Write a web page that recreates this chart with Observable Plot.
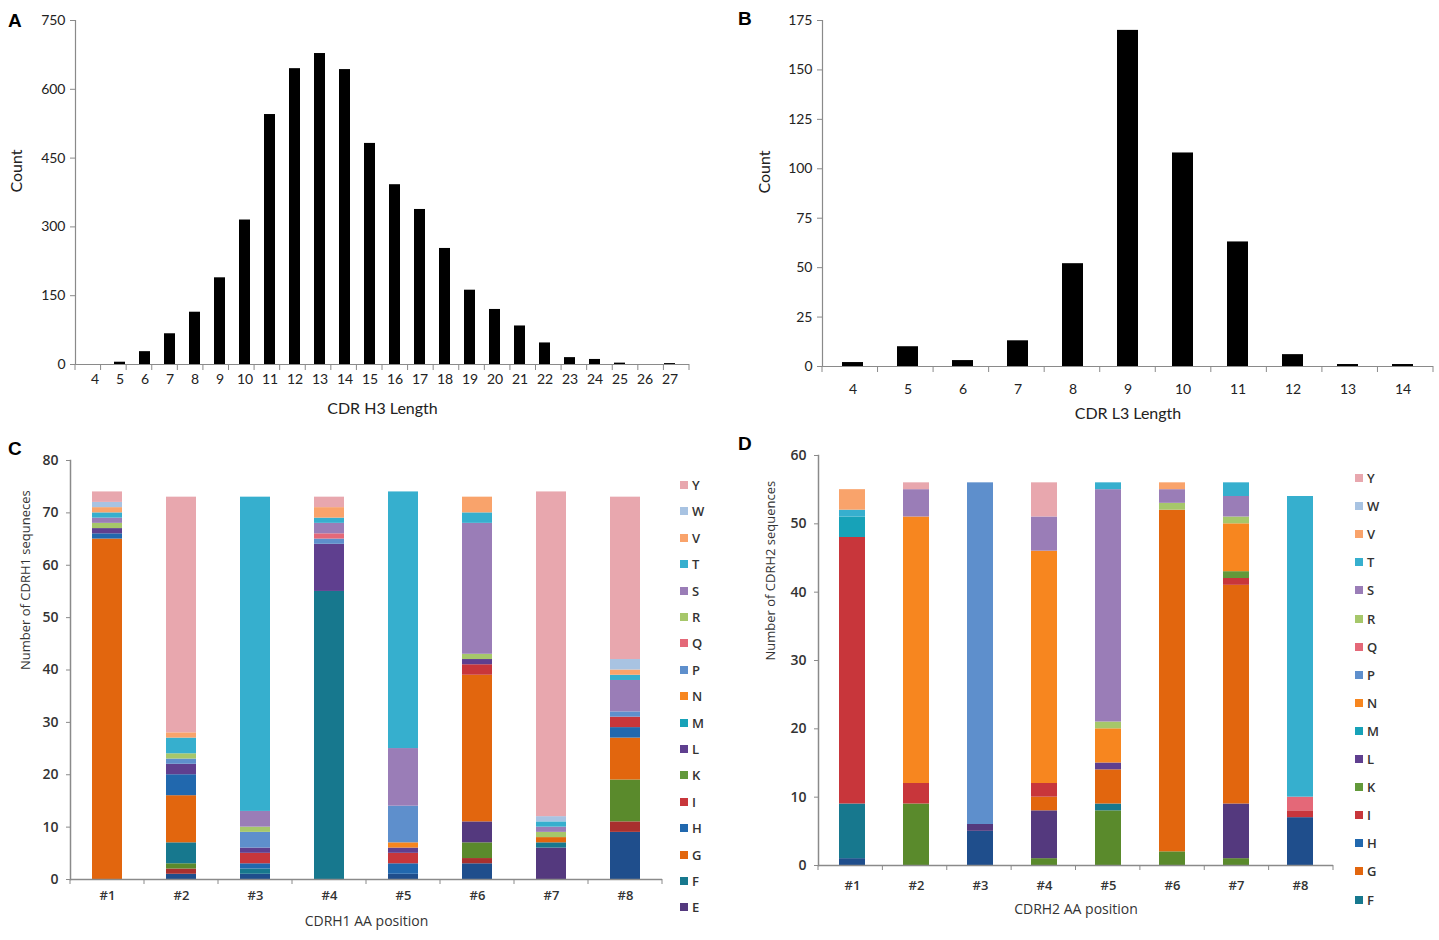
<!DOCTYPE html>
<html><head><meta charset="utf-8">
<script src="https://cdn.jsdelivr.net/npm/d3@7"></script>
<script src="https://cdn.jsdelivr.net/npm/@observablehq/plot@0.6"></script>
<style>
body{margin:0;background:#fff;}
#root{position:relative;width:1439px;height:940px;overflow:hidden;background:#fff;}
.panel{position:absolute;}
.letter{position:absolute;font:bold 19px "Liberation Sans",Arial,sans-serif;color:#000;line-height:1;}
.legend{position:absolute;font:600 13px "Open Sans",sans-serif;color:#333;}
.legend .item{position:absolute;left:0;display:flex;align-items:center;height:16px;white-space:nowrap;}
.legend .sw{display:inline-block;width:8px;height:8px;margin-right:4px;}
</style></head><body><div id="root"></div>
<script>
// ---- Panel A: CDR H3 length distribution
const h3Lengths = [4,5,6,7,8,9,10,11,12,13,14,15,16,17,18,19,20,21,22,23,24,25,26,27];
const h3Counts  = [0,5,28,67,114,189,315,545,645,678,643,482,392,338,253,162,120,84,47,15,11,3,0,2];
const h3YTicks  = [0,150,300,450,600,750];

// ---- Panel B: CDR L3 length distribution
const l3Lengths = [4,5,6,7,8,9,10,11,12,13,14];
const l3Counts  = [2,10,3,13,52,170,108,63,6,1,1];
const l3YTicks  = [0,25,50,75,100,125,150,175];

// ---- Amino acids (stack order bottom -> top) and colours
const aminoAcids = ["A","C","D","E","F","G","H","I","K","L","M","N","P","Q","R","S","T","V","W","Y"];
const aaColors   = ["#1F4E8C","#A8302E","#5A8A2C","#54397E","#17788E","#E2660E","#2168AE","#C8363B","#62993A","#5F3F8F",
                    "#17A2B8","#F7861F","#5E8FCC","#E46878","#A6C76A","#9A7DB7","#36AFCE","#F9A36B","#A8C3E2","#E8A7AE"];

// ---- Panel C: CDRH1 counts per position (aligned with aminoAcids)
const positions = ["#1","#2","#3","#4","#5","#6","#7","#8"];
const h1Pos1 = [0,0,0,0,0,65,1,0,0,1,0,0,0,0,1,1,1,1,1,2];
const h1Pos2 = [1,1,1,0,4,9,4,0,0,2,0,0,1,0,1,0,3,1,0,45];
const h1Pos3 = [1,0,0,0,1,0,1,2,0,1,0,0,3,0,1,3,60,0,0,0];
const h1Pos4 = [0,0,0,0,55,0,0,0,0,9,0,0,1,1,0,2,1,2,0,2];
const h1Pos5 = [1,0,0,0,0,0,2,2,0,1,0,1,7,0,0,11,49,0,0,0];
const h1Pos6 = [3,1,3,4,0,28,0,2,0,1,0,0,0,0,1,25,2,3,0,0];
const h1Pos7 = [0,0,0,6,1,1,0,0,0,0,0,0,0,0,1,1,1,0,1,62];
const h1Pos8 = [9,2,8,0,0,8,2,2,0,0,0,0,1,0,0,6,1,1,2,31];
const h1YTicks = [0,10,20,30,40,50,60,70,80];
const h1Legend = ["Y","W","V","T","S","R","Q","P","N","M","L","K","I","H","G","F","E"];

// ---- Panel D: CDRH2 counts per position (aligned with aminoAcids)
const h2Pos1 = [1,0,0,0,8,0,0,39,0,0,3,0,0,0,0,0,1,3,0,0];
const h2Pos2 = [0,0,9,0,0,0,0,3,0,0,0,39,0,0,0,4,0,0,0,1];
const h2Pos3 = [5,0,0,1,0,0,0,0,0,0,0,0,50,0,0,0,0,0,0,0];
const h2Pos4 = [0,0,1,7,0,2,0,2,0,0,0,34,0,0,0,5,0,0,0,5];
const h2Pos5 = [0,0,8,0,1,5,0,0,0,1,0,5,0,0,1,34,1,0,0,0];
const h2Pos6 = [0,0,2,0,0,50,0,0,0,0,0,0,0,0,1,2,0,1,0,0];
const h2Pos7 = [0,0,1,8,0,32,0,1,1,0,0,7,0,0,1,3,2,0,0,0];
const h2Pos8 = [7,0,0,0,0,0,0,1,0,0,0,0,0,2,0,0,44,0,0,0];
const h2YTicks = [0,10,20,30,40,50,60];
const h2Legend = ["Y","W","V","T","S","R","Q","P","N","M","L","K","I","H","G","F"];

const root = document.getElementById("root");
const AXIS = "#8a8a8a";

function place(el, left, top) {
  const d = document.createElement("div");
  d.className = "panel"; d.style.left = left + "px"; d.style.top = top + "px";
  d.appendChild(el); root.appendChild(d);
}
// category-boundary tick marks below the x axis, positioned from the plot's own scales
function boundaryTicks(chart, len) {
  const sx = chart.scale("x"), sy = chart.scale("y");
  const [r0, r1] = sx.range, n = sx.domain.length, y0 = sy.apply(0);
  const g = d3.select(chart).append("g").attr("stroke", AXIS).attr("stroke-width", 1);
  for (let i = 0; i <= n; i++) {
    const x = r0 + i * (r1 - r0) / n;
    g.append("line").attr("x1", x).attr("x2", x).attr("y1", y0).attr("y2", y0 + len);
  }
}
function letter(t, x, y) {
  const d = document.createElement("div"); d.className = "letter";
  d.style.left = x + "px"; d.style.top = y + "px"; d.textContent = t; root.appendChild(d);
}

function histPanel(o) {
  const rows = o.cats.map((c, i) => ({c, v: o.vals[i]}));
  const chart = Plot.plot({
    width: o.width, height: o.height,
    marginLeft: o.ml, marginRight: o.mr, marginTop: o.mt, marginBottom: o.mb,
    style: {fontFamily: "Lato, sans-serif", fontSize: "14px", color: "#222", background: "transparent", overflow: "visible"},
    x: {type: "band", domain: o.cats, paddingInner: o.pad, paddingOuter: o.pad / 2},
    y: {domain: [0, o.ymax]},
    marks: [
      Plot.barY(rows, {x: "c", y: "v", fill: "black"}),
      Plot.ruleY([0], {stroke: AXIS, strokeWidth: 1.2}),
      Plot.frame({anchor: "left", stroke: AXIS, strokeWidth: 1.2}),
      Plot.axisY({ticks: o.yticks, tickSize: 5, tickPadding: 5, label: null, stroke: AXIS}),
      Plot.axisX({tickSize: 0, tickPadding: o.xpad, label: null}),
      Plot.text([o.ytitle], {text: d => d, frameAnchor: "left", rotate: -90, dx: o.ytdx, fontSize: 16}),
      Plot.text([o.xtitle], {text: d => d, frameAnchor: "bottom", dy: o.xtdy, fontSize: 16})
    ]
  });
  boundaryTicks(chart, 6);
  return chart;
}

function stackPanel(o) {
  const rows = [];
  positions.forEach((p, j) => aminoAcids.forEach((aa, i) => {
    const v = o.series[j][i];
    if (v > 0) rows.push({pos: p, aa, n: v});
  }));
  const chart = Plot.plot({
    width: o.width, height: o.height,
    marginLeft: o.ml, marginRight: o.mr, marginTop: o.mt, marginBottom: o.mb,
    style: {fontFamily: "'Open Sans', sans-serif", fontSize: "13px", fontWeight: 600, color: "#333", background: "transparent", overflow: "visible"},
    x: {type: "band", domain: positions, paddingInner: 0.6, paddingOuter: 0.3},
    y: {domain: [0, o.ymax]},
    color: {domain: aminoAcids, range: aaColors},
    marks: [
      Plot.barY(rows, {x: "pos", y: "n", fill: "aa"}),
      Plot.ruleY([0], {stroke: AXIS, strokeWidth: 1.5}),
      Plot.frame({anchor: "left", stroke: AXIS, strokeWidth: 1.5}),
      Plot.axisY({ticks: o.yticks, tickSize: 4, tickPadding: 8, label: null, stroke: AXIS, fontSize: 14}),
      Plot.axisX({tickSize: 0, tickPadding: o.xpad, label: null}),
      Plot.text([o.ytitle], {text: d => d, frameAnchor: "left", rotate: -90, dx: o.ytdx, fontSize: 13, fontWeight: 400}),
      Plot.text([o.xtitle], {text: d => d, frameAnchor: "bottom", dy: o.xtdy, fontSize: 14, fontWeight: 400})
    ]
  });
  boundaryTicks(chart, 5);
  return chart;
}

function legend(items, left, top, step) {
  const L = document.createElement("div"); L.className = "legend";
  L.style.left = left + "px"; L.style.top = top + "px";
  items.forEach((aa, k) => {
    const it = document.createElement("div"); it.className = "item";
    it.style.top = (k * step) + "px";
    const sw = document.createElement("span"); sw.className = "sw";
    sw.style.background = aaColors[aminoAcids.indexOf(aa)];
    it.appendChild(sw); it.appendChild(document.createTextNode(aa));
    L.appendChild(it);
  });
  root.appendChild(L);
}

place(histPanel({cats: h3Lengths, vals: h3Counts, ymax: 750, yticks: h3YTicks,
  width: 700, height: 440, ml: 75, mr: 11, mt: 20, mb: 76, pad: 0.55, xpad: 10,
  ytitle: "Count", xtitle: "CDR H3 Length", ytdx: -59, xtdy: 49}), 0, 0);

place(histPanel({cats: l3Lengths, vals: l3Counts, ymax: 175, yticks: l3YTicks,
  width: 719, height: 440, ml: 102, mr: 6, mt: 20, mb: 74, pad: 0.62, xpad: 18,
  ytitle: "Count", xtitle: "CDR L3 Length", ytdx: -58, xtdy: 52}), 720, 0);

place(stackPanel({series: [h1Pos1,h1Pos2,h1Pos3,h1Pos4,h1Pos5,h1Pos6,h1Pos7,h1Pos8], ymax: 80, yticks: h1YTicks,
  width: 670, height: 500, ml: 70, mr: 8, mt: 20, mb: 61, xpad: 11,
  ytitle: "Number of CDRH1 sequneces", xtitle: "CDRH1 AA position", ytdx: -45, xtdy: 46}), 0, 440);

place(stackPanel({series: [h2Pos1,h2Pos2,h2Pos3,h2Pos4,h2Pos5,h2Pos6,h2Pos7,h2Pos8], ymax: 60, yticks: h2YTicks,
  width: 630, height: 500, ml: 98, mr: 17, mt: 15, mb: 75, xpad: 15,
  ytitle: "Number of CDRH2 sequences", xtitle: "CDRH2 AA position", ytdx: -48, xtdy: 48}), 720, 440);

legend(h1Legend, 680, 477, 26.4);
legend(h2Legend, 1355, 470, 28.1);

letter("A", 8, 11);
letter("B", 738, 9);
letter("C", 8, 439);
letter("D", 738, 434);
</script>
</body></html>
